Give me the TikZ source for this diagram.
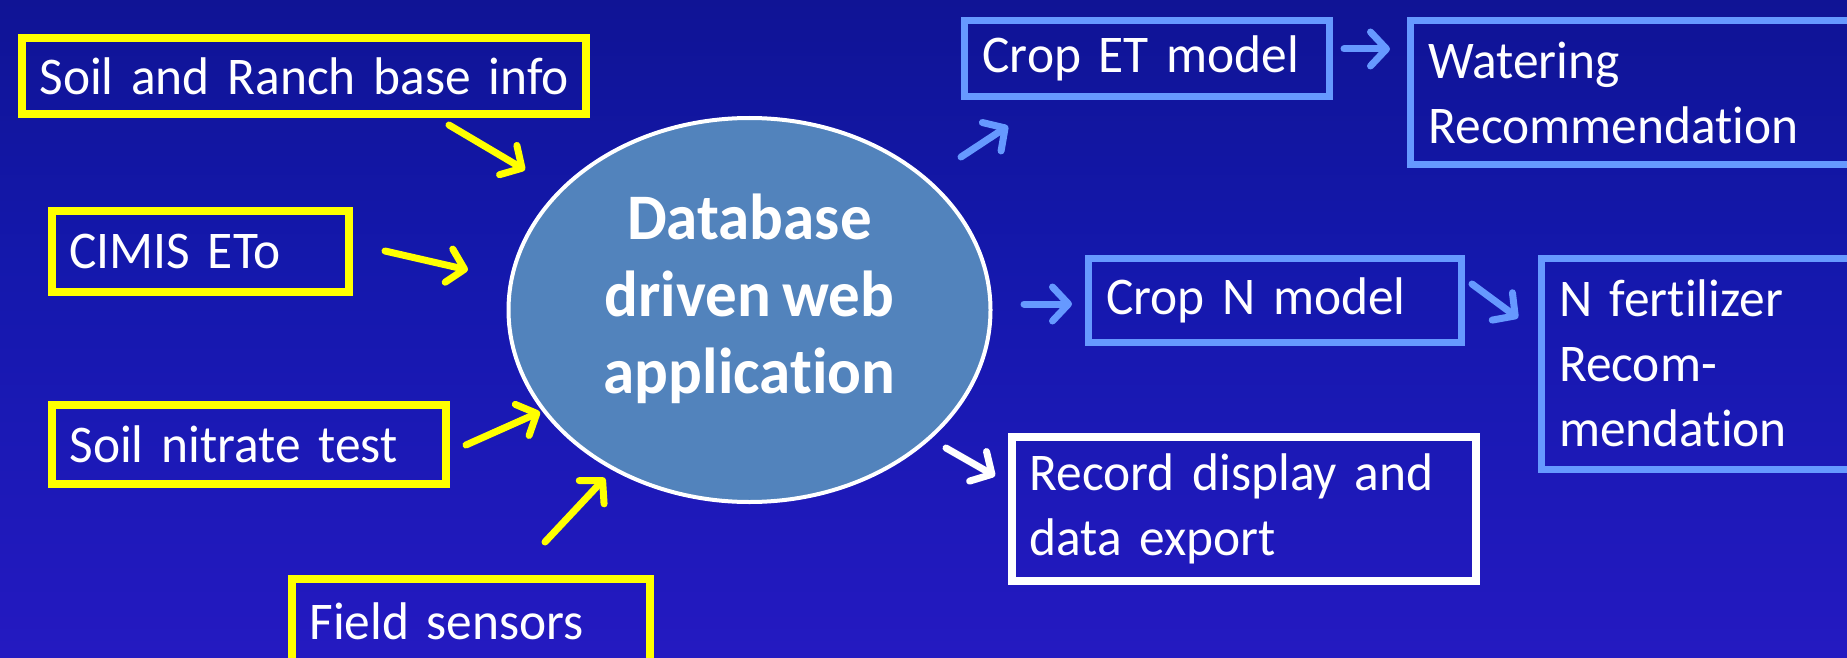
\documentclass[tikz,border=0pt]{standalone}
\usepackage{fontspec}
\setmainfont{Carlito}[Ligatures=NoCommon, WordSpace=0.8, FakeStretch=0.97]
\usetikzlibrary{arrows.meta,shapes.geometric}
\definecolor{bgtop}{RGB}{10,14,120}
\definecolor{bgmid}{RGB}{20,24,172}
\definecolor{bglow}{RGB}{40,26,198}
\definecolor{bgbot}{RGB}{76,16,205}
\definecolor{ylw}{RGB}{255,255,0}
\definecolor{lblue}{RGB}{102,153,255}
\definecolor{appfill}{RGB}{82,131,188}
\pgfdeclareverticalshading{bgshade}{100bp}{color(0bp)=(bgbot); color(18bp)=(bglow); color(55bp)=(bgmid); color(100bp)=(bgtop)}
\tikzset{
  box/.style={draw, line width=8pt, inner xsep=18pt, inner ysep=0pt, align=left,
    text=white, anchor=north west, font=\fontsize{53}{65}\selectfont},
  ybox/.style={box, draw=ylw},
  bbox/.style={box, draw=lblue, line width=7pt},
  wbox/.style={box, draw=white},
  arr/.style={line width=7pt, line cap=round, line join=round,
    -{Straight Barb[length=16pt,width=34pt,line cap=round,line join=round]}},
  barr/.style={arr, draw=lblue},
}
\begin{document}
\begin{tikzpicture}[x=1pt,y=-1pt]
\useasboundingbox (0,0) rectangle (1847,658);
\clip (0,0) rectangle (1847,658);
\shade[shading=bgshade] (0,0) rectangle (1847,658);

% left input boxes
\node[ybox, minimum width=564, minimum height=76, text width=528] (soil) at (17.5,34.5) {\mbox{Soil and Ranch base info}};
\node[ybox, minimum width=297, minimum height=81, text width=261] (cimis) at (47.5,206.5) {\mbox{CIMIS ETo}};
\node[ybox, minimum width=394, minimum height=79, text width=358] (nitrate) at (47.5,400.5) {\mbox{Soil nitrate test}};
\node[ybox, minimum width=358, minimum height=85, text width=322] (field) at (287.5,574.5) {\mbox{Field sensors}};

% central ellipse
\node[ellipse, draw=white, line width=4pt, fill=appfill, minimum width=482, minimum height=384,
  inner sep=0pt,
  label={[yshift=11pt, align=center, text=white, font=\fontsize{65}{77}\selectfont\bfseries]center:{Database\\driven web\\application}}]
  (app) at (749.5,310) {};

% right boxes
\node[bbox, minimum width=365, minimum height=76, text width=329] (cropet) at (961,17) {\mbox{Crop ET model}};
\node[bbox, minimum width=460, minimum height=144, text width=424] (water) at (1407,17) {\mbox{Watering}\\\mbox{Recommendation}};
\node[bbox, minimum width=373, minimum height=84, text width=337] (cropn) at (1084.5,254.5) {\mbox{Crop N model}};
\node[bbox, minimum width=330, minimum height=211, text width=294] (nfert) at (1537.5,254.5) {\mbox{N fertilizer}\\\mbox{Recom-}\\\mbox{mendation}};
\node[wbox, minimum width=464, minimum height=144, text width=428] (record) at (1007.5,432.5) {\mbox{Record display and}\\\mbox{data export}};

% arrow end points
\coordinate (y1s) at (449,125); \coordinate (y1e) at (525,170);
\coordinate (y2s) at (385,251); \coordinate (y2e) at (468,270);
\coordinate (y3s) at (466,445); \coordinate (y3e) at (540,412);
\coordinate (y4s) at (545,542); \coordinate (y4e) at (605,478);
\coordinate (b1s) at (961,157); \coordinate (b1e) at (1008,126);
\coordinate (b2s) at (1344,49); \coordinate (b2e) at (1390,49);
\coordinate (b3s) at (1024,304); \coordinate (b3e) at (1072,304);
\coordinate (b4s) at (1472,284); \coordinate (b4e) at (1518,318);
\coordinate (w1s) at (946,448); \coordinate (w1e) at (995,476);

\draw[arr, draw=ylw] (y1s) -- (y1e);
\draw[arr, draw=ylw] (y2s) -- (y2e);
\draw[arr, draw=ylw] (y3s) -- (y3e);
\draw[arr, draw=ylw] (y4s) -- (y4e);
\draw[barr] (b1s) -- (b1e);
\draw[barr] (b2s) -- (b2e);
\draw[barr] (b3s) -- (b3e);
\draw[barr] (b4s) -- (b4e);
\draw[arr, draw=white] (w1s) -- (w1e);
\end{tikzpicture}
\end{document}
